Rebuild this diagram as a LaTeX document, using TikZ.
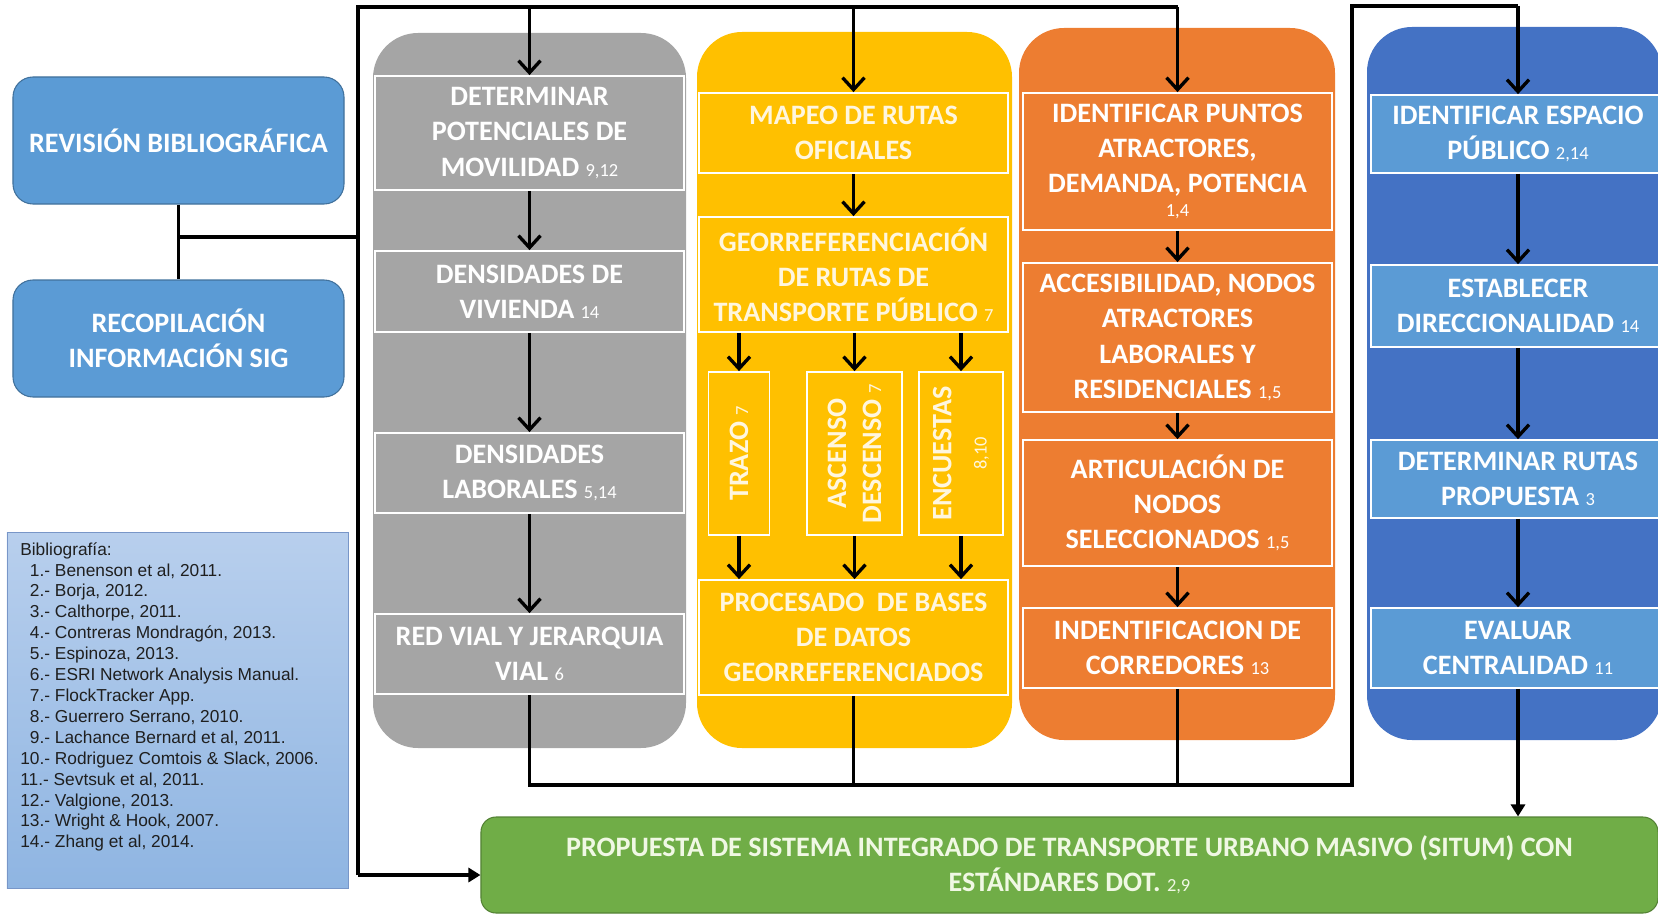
\documentclass[tikz,border=0pt]{standalone}
\usepackage{fontspec}
\setmainfont{Carlito}
\newfontfamily\arialfont{Liberation Sans}
\usepackage{tikz}
\usetikzlibrary{
    arrows.meta,
    positioning
}
\usepackage{xcolor}
\definecolor{panelgray}{RGB}{165,165,165}
\definecolor{panelyellow}{RGB}{255,192,0}
\definecolor{panelorange}{RGB}{237,125,49}
\definecolor{panelblue}{RGB}{68,114,196}
\definecolor{boxblue}{RGB}{91,155,213}
\definecolor{boxblueline}{RGB}{65,113,156}
\definecolor{propgreen}{RGB}{112,173,71}
\definecolor{propgreenline}{RGB}{84,130,53}
\definecolor{bibtop}{RGB}{184,207,237}
\definecolor{bibbottom}{RGB}{143,181,226}
\definecolor{bibline}{RGB}{120,150,200}
\definecolor{cream}{RGB}{255,246,222}
\definecolor{palegreen}{RGB}{240,248,228}

% small reference numbers after a label
\newcommand{\refn}[1]{{\mdseries\fontsize{10.5}{12}\selectfont #1}}

\begin{document}
\begin{tikzpicture}[
    x=0.2mm, y=-0.2mm,
    steptext/.style={
        font=\bfseries\fontsize{16}{20}\selectfont,
        text=white, align=center, inner sep=0pt
    },
    stepbox/.style={
        steptext, rectangle, draw=white, line width=1pt,
        minimum width=61.8mm
    },
    sidebox/.style={
        steptext, rectangle, rounded corners=4mm,
        fill=boxblue, draw=boxblueline, line width=0.6pt,
        minimum width=66.2mm
    },
    wire/.style={line width=1.9pt, black},
    arrow/.style={wire, -{Straight Barb[length=2.4mm, width=4.4mm]}},
    fillarrow/.style={wire, -{Triangle[length=2.4mm, width=2.8mm]}}
]
\useasboundingbox (0,0) rectangle (1658,915);
\clip (0,0) rectangle (1658,915);

% Panels
\fill[panelgray, rounded corners=9mm]   (373,33)  rectangle (686,748);
\fill[panelyellow, rounded corners=9mm] (697,32)  rectangle (1012,748);
\fill[panelorange, rounded corners=9mm] (1019,28) rectangle (1335,740);
\fill[panelblue, rounded corners=9mm]   (1367,27) rectangle (1662,740);

% Left column
\node[sidebox, minimum height=25.4mm] (rev) at (178.5,140.5) {REVISIÓN BIBLIOGRÁFICA};
\node[sidebox, minimum height=23.4mm] (sig) at (178.5,338.5) {RECOPILACIÓN\\INFORMACIÓN SIG};

% References
\node[rectangle, top color=bibtop, bottom color=bibbottom, draw=bibline, line width=0.5pt,
      minimum width=68.2mm, minimum height=71.2mm, inner sep=0pt] (bib) at (177.5,710) {};
\node[anchor=north west, inner sep=0pt, align=left, text=black!88,
      font=\arialfont\fontsize{9.85}{11.9}\selectfont] (bibtxt) at (20,542) {%
Bibliografía:\\
\phantom{0}1.- Benenson et al, 2011.\\
\phantom{0}2.- Borja, 2012.\\
\phantom{0}3.- Calthorpe, 2011.\\
\phantom{0}4.- Contreras Mondragón, 2013.\\
\phantom{0}5.- Espinoza, 2013.\\
\phantom{0}6.- ESRI Network Analysis Manual.\\
\phantom{0}7.- FlockTracker App.\\
\phantom{0}8.- Guerrero Serrano, 2010.\\
\phantom{0}9.- Lachance Bernard et al, 2011.\\
10.- Rodriguez Comtois \& Slack, 2006.\\
11.- Sevtsuk et al, 2011.\\
12.- Valgione, 2013.\\
13.- Wright \& Hook, 2007.\\
14.- Zhang et al, 2014.};

% Gray column
\node[stepbox, minimum height=22.8mm] (g1) at (529.5,133)   {DETERMINAR\\POTENCIALES DE\\MOVILIDAD \refn{9,12}};
\node[stepbox, minimum height=16.2mm] (g2) at (529.5,291.5) {DENSIDADES DE\\VIVIENDA \refn{14}};
\node[stepbox, minimum height=16mm]   (g3) at (529.5,473)   {DENSIDADES\\LABORALES \refn{5,14}};
\node[stepbox, minimum height=16mm]   (g4) at (529.5,654)   {RED VIAL Y JERARQUIA\\VIAL \refn{6}};

% Yellow column
\node[stepbox, text=cream, minimum height=16mm] (y1) at (853.5,133)   {MAPEO DE RUTAS\\OFICIALES};
\node[stepbox, text=cream, minimum height=23mm] (y2) at (853.5,274.5) {GEORREFERENCIACIÓN\\DE RUTAS DE\\TRANSPORTE PÚBLICO \refn{7}};
\node[stepbox, text=cream, rotate=90, minimum width=32.6mm, minimum height=12.2mm] (trazo)    at (739,453.5)   {TRAZO \refn{7}};
\node[stepbox, text=cream, rotate=90, minimum width=32.6mm, minimum height=19mm]   (ascenso)  at (854.5,453.5) {ASCENSO\\DESCENSO \refn{7}};
\node[stepbox, text=cream, rotate=90, minimum width=32.6mm, minimum height=16.8mm] (encuesta) at (961,453.5)   {ENCUESTAS\\\refn{8,10}};
\node[stepbox, text=cream, minimum height=23mm] (y3) at (853.5,637.5) {PROCESADO~ DE BASES\\DE DATOS\\GEORREFERENCIADOS};

% Orange column
\node[stepbox, minimum height=27.4mm] (o1) at (1177.5,161.5) {IDENTIFICAR PUNTOS\\ATRACTORES,\\DEMANDA, POTENCIA\\[-6pt]\refn{1,4}};
\node[stepbox, minimum height=29.8mm] (o2) at (1177.5,337.5) {ACCESIBILIDAD, NODOS\\ATRACTORES\\LABORALES Y\\RESIDENCIALES \refn{1,5}};
\node[stepbox, minimum height=25.2mm] (o3) at (1177.5,503)   {ARTICULACIÓN DE\\NODOS\\SELECCIONADOS \refn{1,5}};
\node[stepbox, minimum height=16mm]   (o4) at (1177.5,648)   {INDENTIFICACION DE\\CORREDORES \refn{13}};

% Blue column
\node[stepbox, fill=boxblue, minimum width=58.8mm, minimum height=15.6mm] (b1) at (1518,134) {IDENTIFICAR ESPACIO\\PÚBLICO \refn{2,14}};
\node[stepbox, fill=boxblue, minimum width=58.8mm, minimum height=16.4mm] (b2) at (1518,306) {ESTABLECER\\DIRECCIONALIDAD \refn{14}};
\node[stepbox, fill=boxblue, minimum width=58.8mm, minimum height=15.6mm] (b3) at (1518,479) {DETERMINAR RUTAS\\PROPUESTA \refn{3}};
\node[stepbox, fill=boxblue, minimum width=58.8mm, minimum height=16mm]   (b4) at (1518,648) {EVALUAR\\CENTRALIDAD \refn{11}};

% Final proposal
\node[steptext, text=palegreen, rectangle, rounded corners=3mm, fill=propgreen, draw=propgreenline,
      line width=0.6pt, minimum width=235.4mm, minimum height=19.2mm] (prop) at (1069.5,865)
      {PROPUESTA DE SISTEMA INTEGRADO DE TRANSPORTE URBANO MASIVO (SITUM) CON\\ESTÁNDARES DOT. \refn{2,9}};

% Trunk lines
\coordinate (top)  at (358,7);
\coordinate (low)  at (358,875);
\coordinate (join) at (358,237);
\coordinate (bus)  at (1352,785);
\coordinate (ret)  at (1352,6);

\draw[wire] (rev) -- (sig);
\draw[wire] (rev.south |- join) -- (join);
\draw[wire] (low) -- (top) -- (o1.north |- top);
\draw[fillarrow] (low) -- (low -| prop.west);
\foreach \n in {g1,y1,o1}
    \draw[arrow] (\n.north |- top) -- (\n.north);

% Steps inside the columns
\foreach \a/\b in {g1/g2, g2/g3, g3/g4, y1/y2, o1/o2, o2/o3, o3/o4, b1/b2, b2/b3, b3/b4}
    \draw[arrow] (\a) -- (\b);
\foreach \s in {trazo, ascenso, encuesta} {
    \draw[arrow] (y2.south -| \s) -- (\s.east);
    \draw[arrow] (\s.west) -- (\s |- y3.north);
}

% Bottom bus to the blue column
\draw[wire] (g4.south) -- (g4.south |- bus) -- (bus) -- (ret) -- (b1.north |- ret);
\draw[arrow] (b1.north |- ret) -- (b1.north);
\draw[wire] (y3.south) -- (y3.south |- bus);
\draw[wire] (o4.south) -- (o4.south |- bus);
\draw[fillarrow] (b4.south) -- (b4.south |- prop.north);

\end{tikzpicture}
\end{document}
